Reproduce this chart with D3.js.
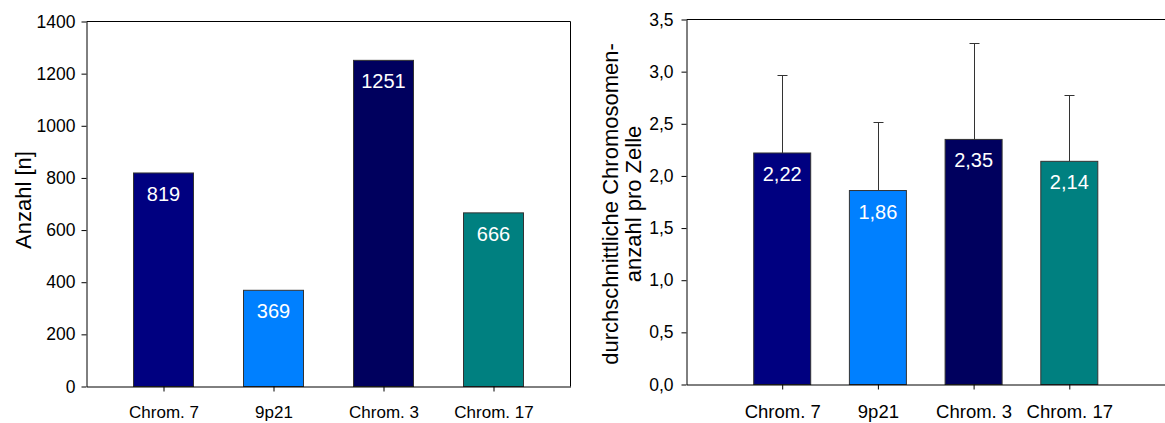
<!DOCTYPE html>
<html>
<head>
<meta charset="utf-8">
<script src="https://cdn.jsdelivr.net/npm/d3@7"></script>
<style>
  body { margin: 0; background: #fff; }
  svg { display: block; font-family: "Liberation Sans", Arial, sans-serif; }
  .axis path, .axis line { stroke: #000; }
  .bar { stroke: #333; stroke-width: 1; }
  .err { stroke: #333; stroke-width: 1; }
</style>
</head>
<body>
<svg id="graph" width="1165" height="423"></svg>
<script>
// data
var categories = ["Chrom. 7", "9p21", "Chrom. 3", "Chrom. 17"];
var barColors = ["#000080", "#0080ff", "#00005e", "#008080"];
var counts = [819, 369, 1251, 666];
var means = [2.22, 1.86, 2.35, 2.14];
var meanErrTop = [2.97, 2.52, 3.27, 2.78];
var countTicks = [0, 200, 400, 600, 800, 1000, 1200, 1400];
var meanTicks = [0, 0.5, 1.0, 1.5, 2.0, 2.5, 3.0, 3.5];

var svg = d3.select("#graph");
var de = d3.formatLocale({decimal: ",", thousands: ".", grouping: [3], currency: ["", "€"]});
var fmt1 = de.format(".1f"), fmt2 = de.format(".2f");

// ---- left chart: Anzahl
var lx = d3.scalePoint().domain(categories).range([86.5, 570.5]).padding(0.7),
	ly = d3.scaleLinear().domain([0, 1400]).range([386.5, 21.5]);

var left = svg.append("g");

left.selectAll(".bar")
	.data(categories)
	.enter().append("rect")
		.attr("class", "bar")
		.attr("x", function(d) { return lx(d) - 30; })
		.attr("width", 60)
		.attr("y", function(d, i) { return ly(counts[i]); })
		.attr("height", function(d, i) { return ly(0) - ly(counts[i]); })
		.attr("fill", function(d, i) { return barColors[i]; });

left.selectAll(".val")
	.data(categories)
	.enter().append("text")
		.attr("x", function(d) { return lx(d); })
		.attr("y", function(d, i) { return ly(counts[i]) + 28; })
		.attr("text-anchor", "middle")
		.attr("fill", "#fff")
		.style("font-size", "20px")
		.text(function(d, i) { return counts[i]; });

// frame top + right
left.append("line").attr("x1", 86.5).attr("x2", 570.5).attr("y1", ly(1400)).attr("y2", ly(1400)).attr("stroke", "#000");
left.append("line").attr("x1", 570.5).attr("x2", 570.5).attr("y1", ly(1400)).attr("y2", ly(0)).attr("stroke", "#000");

left.append("g")
	.attr("class", "axis")
	.attr("transform", "translate(86.5,0)")
	.call(d3.axisLeft(ly).tickValues(countTicks).tickFormat(d3.format("d")).tickSize(5).tickSizeOuter(0).tickPadding(6))
	.style("font-size", "17.5px");

left.append("g")
	.attr("class", "axis")
	.attr("transform", "translate(0," + ly(0) + ")")
	.call(d3.axisBottom(lx).tickSize(5).tickSizeOuter(0).tickPadding(14))
	.style("font-size", "17px");

left.selectAll(".axis text").attr("fill", "#000").style("font-family", "Liberation Sans, Arial, sans-serif");

left.append("text")
	.attr("transform", "translate(31,200) rotate(-90)")
	.attr("text-anchor", "middle")
	.style("font-size", "22px")
	.text("Anzahl [n]");

// ---- right chart: mean per cell
var rx = d3.scalePoint().domain(categories).range([686.5, 1165]).padding(1),
	ry = d3.scaleLinear().domain([0, 3.5]).range([384.5, 19.5]);

var right = svg.append("g");

right.selectAll(".err")
	.data(categories)
	.enter().append("path")
		.attr("class", "err")
		.attr("fill", "none")
		.attr("d", function(d, i) {
			var cx = Math.round(rx(d)) + 0.5, top = Math.round(ry(meanErrTop[i])) + 0.5;
			return "M" + cx + "," + ry(means[i]) + "V" + top + "M" + (cx - 5) + "," + top + "H" + (cx + 5);
		});

right.selectAll(".bar")
	.data(categories)
	.enter().append("rect")
		.attr("class", "bar")
		.attr("x", function(d) { return rx(d) - 28.5; })
		.attr("width", 57)
		.attr("y", function(d, i) { return ry(means[i]); })
		.attr("height", function(d, i) { return ry(0) - ry(means[i]); })
		.attr("fill", function(d, i) { return barColors[i]; });

right.selectAll(".val")
	.data(categories)
	.enter().append("text")
		.attr("x", function(d) { return rx(d); })
		.attr("y", function(d, i) { return ry(means[i]) + 28; })
		.attr("text-anchor", "middle")
		.attr("fill", "#fff")
		.style("font-size", "20px")
		.text(function(d, i) { return fmt2(means[i]); });

right.append("line").attr("x1", 686.5).attr("x2", 1165).attr("y1", ry(3.5)).attr("y2", ry(3.5)).attr("stroke", "#000");

right.append("g")
	.attr("class", "axis")
	.attr("transform", "translate(686.5,0)")
	.call(d3.axisLeft(ry).tickValues(meanTicks).tickFormat(fmt1).tickSize(5).tickSizeOuter(0).tickPadding(8))
	.style("font-size", "17.5px");

right.append("g")
	.attr("class", "axis")
	.attr("transform", "translate(0," + ry(0) + ")")
	.call(d3.axisBottom(rx).tickSize(5).tickSizeOuter(0).tickPadding(15))
	.style("font-size", "18.5px");

right.selectAll(".axis text").attr("fill", "#000").style("font-family", "Liberation Sans, Arial, sans-serif");

var ttl = right.append("text")
	.attr("transform", "translate(618,204) rotate(-90)")
	.attr("text-anchor", "middle")
	.style("font-size", "22px");
ttl.append("tspan").attr("x", 0).attr("y", 0).text("durchschnittliche Chromosomen-");
ttl.append("tspan").attr("x", 0).attr("y", 23).text("anzahl pro Zelle");
</script>
</body>
</html>
